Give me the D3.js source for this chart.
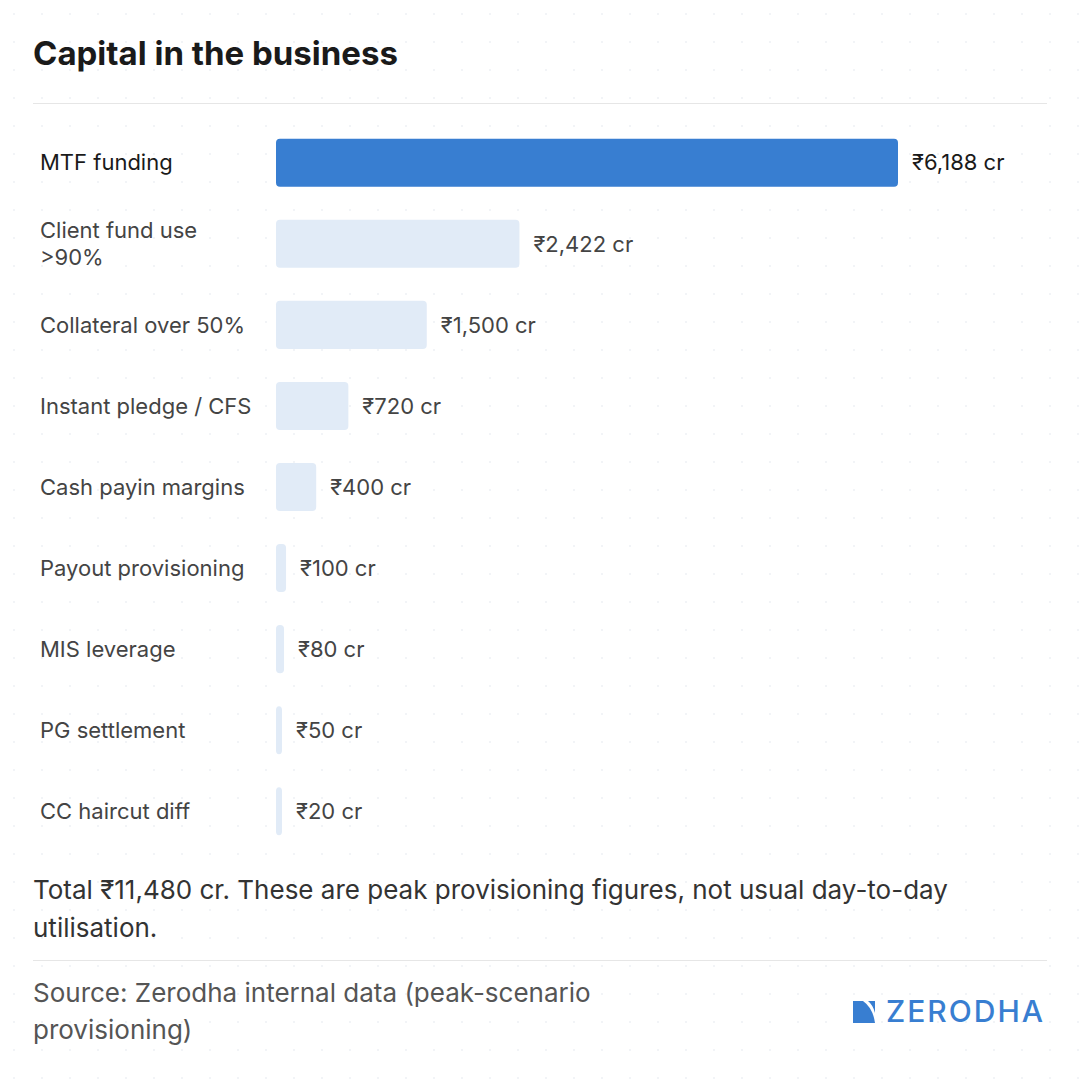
<!DOCTYPE html>
<html>
<head>
<meta charset="utf-8">
<script src="https://cdn.jsdelivr.net/npm/d3@7"></script>
<style>
  html, body { margin: 0; padding: 0; background: #fff; }
  svg { display: block; font-family: Inter, "Noto Sans", sans-serif; }
</style>
</head>
<body>
<div id="chart"></div>
<script>
// Données du graphique
const categories = [
    ["MTF funding"],
    ["Client fund use", ">90%"],
    ["Collateral over 50%"],
    ["Instant pledge / CFS"],
    ["Cash payin margins"],
    ["Payout provisioning"],
    ["MIS leverage"],
    ["PG settlement"],
    ["CC haircut diff"]
];
const values = [6188, 2422, 1500, 720, 400, 100, 80, 50, 20];
const valueLabels = ["₹6,188 cr", "₹2,422 cr", "₹1,500 cr", "₹720 cr", "₹400 cr", "₹100 cr", "₹80 cr", "₹50 cr", "₹20 cr"];
const highlighted = [0];

const title = "Capital in the business";
const note = ["Total ₹11,480 cr. These are peak provisioning figures, not usual day-to-day", "utilisation."];
const source = ["Source: Zerodha internal data (peak-scenario", "provisioning)"];

const W = 1080, H = 1080;
const blue = "#387ed1", pale = "#e1ebf7";

const svg = d3.select("#chart").append("svg")
    .attr("width", W)
    .attr("height", H);

// Fond à points
const defs = svg.append("defs");
const pat = defs.append("pattern")
    .attr("id", "dots")
    .attr("width", 28).attr("height", 28)
    .attr("patternUnits", "userSpaceOnUse");
pat.append("circle").attr("cx", 14).attr("cy", 14).attr("r", 1).attr("fill", "#eef0f5");
svg.append("rect").attr("width", W).attr("height", H).attr("fill", "#fff");
svg.append("rect").attr("width", W).attr("height", H).attr("fill", "url(#dots)");

// Titre
svg.append("text")
    .attr("x", 33).attr("y", 65)
    .attr("font-size", 33).attr("font-weight", 700)
    .attr("fill", "#1a1a1a")
    .text(title);

svg.append("line")
    .attr("x1", 33).attr("x2", 1047)
    .attr("y1", 103.5).attr("y2", 103.5)
    .attr("stroke", "#e6e6e6");

// Échelles
const x = d3.scaleLinear()
    .domain([0, d3.max(values)])
    .range([0, 622]);

const y = d3.scaleBand()
    .domain(d3.range(values.length))
    .range([122.5, 851.5])
    .paddingInner(0.407)
    .paddingOuter(0.2);

const barX = 276;

const rows = svg.append("g").selectAll("g")
    .data(values)
    .join("g")
    .attr("transform", (d, i) => `translate(0,${y(i)})`);

rows.append("rect")
    .attr("x", barX)
    .attr("y", 0)
    .attr("width", d => Math.max(x(d), 6))
    .attr("height", y.bandwidth())
    .attr("rx", 4)
    .attr("fill", (d, i) => highlighted.includes(i) ? blue : pale);

// Libellés des catégories
rows.append("text")
    .attr("x", 40)
    .attr("font-size", 22)
    .attr("fill", (d, i) => highlighted.includes(i) ? "#1a1a1a" : "#444")
    .each(function (d, i) {
        const lines = categories[i];
        const lh = 27;
        const y0 = y.bandwidth() / 2 - (lines.length - 1) * lh / 2;
        d3.select(this).selectAll("tspan")
            .data(lines)
            .join("tspan")
            .attr("x", 40)
            .attr("y", (l, j) => y0 + j * lh)
            .attr("dy", "0.35em")
            .text(l => l);
    });

// Valeurs
rows.append("text")
    .attr("x", d => barX + Math.max(x(d), 6) + 14)
    .attr("y", y.bandwidth() / 2)
    .attr("dy", "0.35em")
    .attr("font-size", 22)
    .attr("fill", (d, i) => highlighted.includes(i) ? "#1a1a1a" : "#444")
    .text((d, i) => valueLabels[i]);

// Note
svg.append("text")
    .attr("font-size", 26)
    .attr("fill", "#333")
    .selectAll("tspan")
    .data(note)
    .join("tspan")
    .attr("x", 33)
    .attr("y", (d, i) => 899 + i * 38)
    .text(d => d);

svg.append("line")
    .attr("x1", 33).attr("x2", 1047)
    .attr("y1", 960.5).attr("y2", 960.5)
    .attr("stroke", "#e6e6e6");

// Source
svg.append("text")
    .attr("font-size", 26)
    .attr("fill", "#555")
    .selectAll("tspan")
    .data(source)
    .join("tspan")
    .attr("x", 33)
    .attr("y", (d, i) => 1002 + i * 37)
    .text(d => d);

// Logo
const logo = svg.append("g").attr("transform", "translate(853,1001)");
logo.append("path")
    .attr("d", "M0,0 H10 Q20,7 22,22 H0 Z")
    .attr("fill", blue);
logo.append("path")
    .attr("d", "M15,0 H22 V12 Q20,4 15,0 Z")
    .attr("fill", blue);
svg.append("text")
    .attr("x", 1045).attr("y", 1022)
    .attr("text-anchor", "end")
    .attr("font-size", 30)
    .attr("font-weight", 500)
    .attr("letter-spacing", 2)
    .attr("fill", blue)
    .text("ZERODHA");
</script>
</body>
</html>
